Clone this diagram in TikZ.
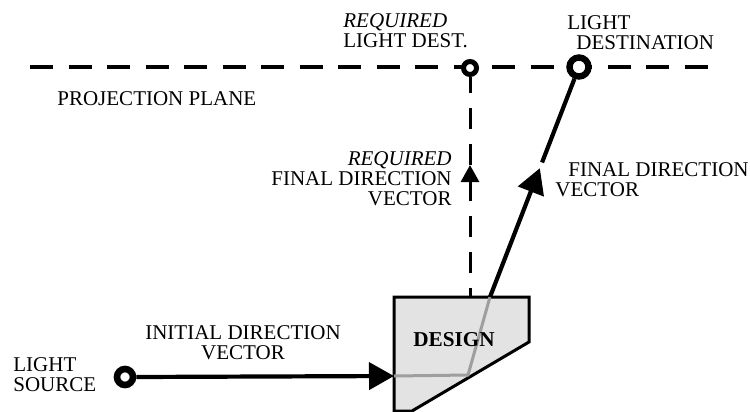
\documentclass[tikz,border=0pt]{standalone}
\usepackage{fontspec}
\setmainfont{Liberation Serif}
\usetikzlibrary{arrows.meta,calc}
\begin{document}
\begin{tikzpicture}[x=0.5pt,y=-0.5pt,
  lbl/.style={inner sep=0pt, font=\fontsize{10.5}{10}\selectfont},
  plane/.style={line width=1.6pt, dash pattern=on 11.5pt off 7.75pt},
  guide/.style={line width=1.5pt, dash pattern=on 10.5pt off 7.5pt, dash phase=6pt},
  ray/.style={line width=2.1pt},
  endpt/.style={circle, draw, fill=white, inner sep=0pt},
  bigtip/.style={-{Triangle[length=12.5pt,width=13.5pt]}},
  smalltip/.style={-{Triangle[length=8.5pt,width=9pt]}},
  designbox/.style={draw, line width=1.5pt, fill=black!11, line join=miter},
  innerpath/.style={draw=black!38, line width=1.5pt}
]
\useasboundingbox (0,0) rectangle (750,412);

% projection plane
\coordinate (pl) at (30,67);
\coordinate (pr) at (721,67);
\draw[plane] (pl) -- (pr);

% design element and the path of light through it
\coordinate (d1) at (394,297);
\coordinate (d2) at (529,297);
\coordinate (d3) at (529,342);
\coordinate (d4) at (412,411);
\coordinate (d5) at (394,411);
\draw[designbox] (d1) -- (d2) -- (d3) -- (d4) -- (d5) -- cycle;
\coordinate (entry) at (394,376);
\coordinate (bend) at (468,375);
\coordinate (exit) at (490,297);
\draw[innerpath] (entry) -- (bend) -- (exit);
\node[font=\fontsize{10.6}{10}\selectfont\bfseries] (design) at (454,340) {DESIGN};

% end points
\node[endpt, line width=3.3pt, minimum size=8pt] (src) at (125,377) {};
\node[endpt, line width=3.2pt, minimum size=9.5pt] (dst) at (579,67) {};
\node[endpt, line width=2.5pt, minimum size=6.5pt] (req) at (470,68) {};

% required final direction (dashed)
\coordinate (reqfoot) at (470,297);
\coordinate (reqtip) at (470,165);
\coordinate (reqtail) at (470,184);
\draw[guide] (reqfoot) -- (req.south);
\draw[line width=1.5pt, smalltip] (reqtail) -- (reqtip);

% initial direction vector
\draw[ray, bigtip] (src.east) -- (entry);

% final direction vector
\coordinate (ftip) at ($(exit)!0.56!(dst)$);
\coordinate (fcont) at ($(exit)!0.585!(dst)$);
\draw[ray, bigtip] (exit) -- (ftip);
\draw[ray] (fcont) -- (dst);

% labels
\node[lbl, anchor=north west, align=left] (lreq) at (343,13)
  {\textit{REQUIRED}\\LIGHT DEST.};
\node[lbl, anchor=north west, align=left] (ldst) at (567,15)
  {LIGHT\\\hspace*{4.5pt}DESTINATION};
\node[lbl, anchor=north west] (lplane) at (57,91) {PROJECTION PLANE};
\node[lbl, anchor=north east, align=right] (lreqvec) at (452,151)
  {\textit{REQUIRED}\\FINAL DIRECTION\\VECTOR};
\node[lbl, anchor=north west, align=left] (lfin) at (555,162)
  {\hspace*{6.5pt}FINAL DIRECTION\\VECTOR};
\node[lbl, anchor=north, align=center] (linit) at (243,325)
  {INITIAL DIRECTION\\VECTOR};
\node[lbl, anchor=north west, align=left] (lsrc) at (13,357)
  {LIGHT\\SOURCE};
\end{tikzpicture}
\end{document}
